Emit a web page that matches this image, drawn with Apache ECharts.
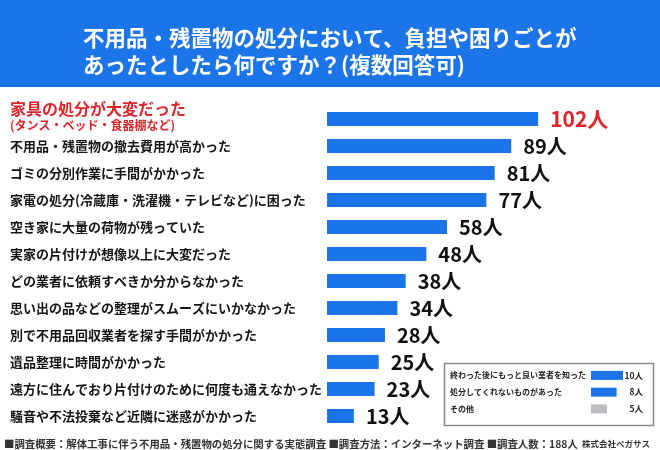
<!DOCTYPE html>
<html>
<head>
<meta charset="utf-8">
<script src="https://cdn.jsdelivr.net/npm/echarts@6/dist/echarts.min.js"></script>
<style>
  html, body { margin: 0; padding: 0; background: #fff; }
  #chart { width: 660px; height: 450px; }
</style>
</head>
<body>
<div id="chart"></div>
<script>
// main question answers (people), top to bottom
const categories = [
  '家具の処分が大変だった\n(タンス・ベッド・食器棚など)',
  '不用品・残置物の撤去費用が高かった',
  'ゴミの分別作業に手間がかかった',
  '家電の処分(冷蔵庫・洗濯機・テレビなど)に困った',
  '空き家に大量の荷物が残っていた',
  '実家の片付けが想像以上に大変だった',
  'どの業者に依頼すべきか分からなかった',
  '思い出の品などの整理がスムーズにいかなかった',
  '別で不用品回収業者を探す手間がかかった',
  '遺品整理に時間がかかった',
  '遠方に住んでおり片付けのために何度も通えなかった',
  '騒音や不法投棄など近隣に迷惑がかかった'
];
const counts = [102, 89, 81, 77, 58, 48, 38, 34, 28, 25, 23, 13];

// small inset (other answers)
const otherCategories = ['終わった後にもっと良い業者を知った', '処分してくれないものがあった', 'その他'];
const otherCounts = [10, 8, 5];

const titleText = '不用品・残置物の処分において、負担や困りごとが\nあったとしたら何ですか？(複数回答可)';
const footerText = '■調査概要：解体工事に伴う不用品・残置物の処分に関する実態調査 ■調査方法：インターネット調査 ■調査人数：188人';
const footerCompany = '株式会社ペガサス';

const BLUE = '#1c74e9';
const RED = '#e0242b';
const FONT = '"Noto Sans CJK JP", "Noto Sans", sans-serif';

const chart = echarts.init(document.getElementById('chart'));

const mainData = counts.map((v, i) => i === 0
  ? { value: v, label: { color: RED, fontSize: 21 } }
  : v);

const otherData = otherCounts.map((v, i) => ({
  value: v,
  itemStyle: { color: i === otherCounts.length - 1 ? '#bdbcc1' : BLUE }
}));

const option = {
  backgroundColor: '#fff',
  textStyle: { fontFamily: FONT },
  graphic: [
    { type: 'rect', left: 0, top: 0, shape: { width: 660, height: 87 }, style: { fill: BLUE }, z: -1 },
    { type: 'rect', left: 442, top: 361, shape: { width: 209, height: 62 },
      style: { fill: 'none', stroke: '#8a8a8a', lineWidth: 1.5 }, z: -1 }
  ],
  title: [
    {
      text: titleText,
      left: 78, top: 19,
      textStyle: { color: '#fff', fontSize: 21.5, fontWeight: 'bold', lineHeight: 27, fontFamily: FONT }
    },
    {
      text: '{a|' + footerText + '} {b|' + footerCompany + '}',
      left: 4, top: 435, padding: 0,
      textStyle: {
        fontFamily: FONT,
        rich: {
          a: { fontSize: 10.4, color: '#333', lineHeight: 12, fontFamily: FONT },
          b: { fontSize: 8.5, color: '#333', lineHeight: 12, fontFamily: FONT }
        }
      }
    }
  ],
  grid: [
    { left: 327, top: 105.5, width: 248.4, height: 324 },
    { left: 591, top: 367, width: 32, height: 50.3 }
  ],
  xAxis: [
    { type: 'value', gridIndex: 0, min: 0, max: 120, show: false },
    { type: 'value', gridIndex: 1, min: 0, max: 10, show: false }
  ],
  yAxis: [
    {
      type: 'category', gridIndex: 0, inverse: true, data: categories,
      axisLine: { show: false }, axisTick: { show: false },
      axisLabel: {
        align: 'left', margin: 317,
        fontSize: 13, fontWeight: 'bold', color: '#151515', fontFamily: FONT,
        formatter: (val, idx) => {
          if (idx === 0) {
            const parts = val.split('\n');
            // small empty line at the end nudges the two-line label upward
            return '{r1|' + parts[0] + '}\n{r2|' + parts[1] + '}\n{sp|}';
          }
          return val;
        },
        rich: {
          r1: { fontSize: 16, fontWeight: 'bold', color: RED, lineHeight: 18, fontFamily: FONT },
          r2: { fontSize: 12, fontWeight: 'bold', color: RED, lineHeight: 15, fontFamily: FONT },
          sp: { fontSize: 1, lineHeight: 6 }
        }
      }
    },
    {
      type: 'category', gridIndex: 1, inverse: true, data: otherCategories,
      axisLine: { show: false }, axisTick: { show: false },
      axisLabel: { align: 'left', margin: 141, fontSize: 8, fontWeight: 'bold', color: '#222', fontFamily: FONT }
    },
    {
      type: 'category', gridIndex: 1, inverse: true, position: 'right',
      data: otherCounts.map(v => v + '人'),
      axisLine: { show: false }, axisTick: { show: false },
      axisLabel: { align: 'right', margin: 20, fontSize: 8.5, fontWeight: 'bold', color: '#222', fontFamily: FONT }
    }
  ],
  series: [
    {
      type: 'bar', xAxisIndex: 0, yAxisIndex: 0, data: mainData,
      barWidth: 14,
      itemStyle: { color: BLUE },
      label: {
        show: true, position: 'right', distance: 12,
        formatter: '{c}人', fontSize: 20, fontWeight: 'bold', color: '#111', fontFamily: FONT
      },
      silent: true
    },
    {
      type: 'bar', xAxisIndex: 1, yAxisIndex: 1, data: otherData,
      barWidth: 9,
      silent: true
    }
  ]
};

chart.setOption(option);
</script>
</body>
</html>
